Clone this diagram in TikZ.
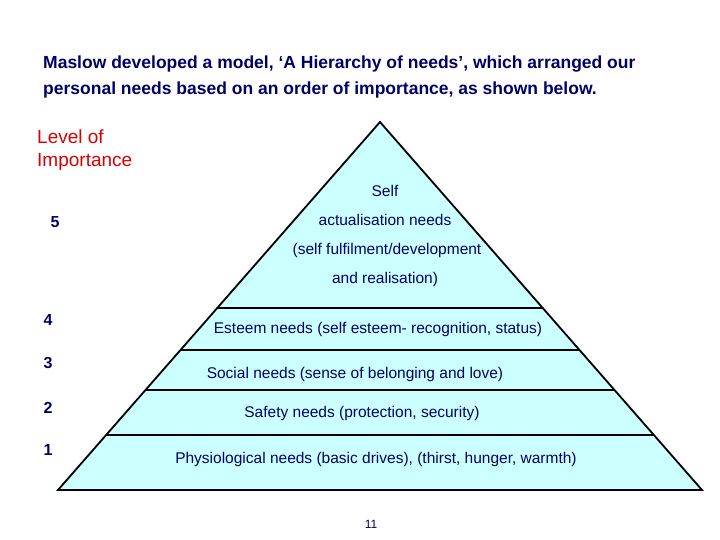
\documentclass[tikz,border=0pt]{standalone}
\usepackage{fontspec}
\setmainfont{Liberation Sans}
\usetikzlibrary{calc}
\definecolor{navy}{HTML}{000066}
\definecolor{cy}{HTML}{CCFFFF}
\begin{document}
\begin{tikzpicture}[x=1pt,y=-1pt,
  t/.style={text=navy,font=\fontsize{15.5}{18}\selectfont,anchor=center,inner sep=0},
  num/.style={text=navy,font=\bfseries\fontsize{16}{18}\selectfont,inner sep=0},
  edge/.style={draw=black,line width=1.8pt}]
\useasboundingbox (0,0) rectangle (720,540);
\coordinate (A) at (380,122);
\coordinate (L) at (58,490);
\coordinate (R) at (702,490);
\fill[cy] (A) -- (L) -- (R) -- cycle;
\foreach \y/\n in {308/a,350/b,390/c,435/d}{
  \draw[edge] ($(A)!{(\y-122)/368}!(L)$) coordinate (l\n) -- ($(A)!{(\y-122)/368}!(R)$) coordinate (r\n);
}
\draw[edge,line join=miter] (A) -- (L) -- (R) -- cycle;
\node[text=navy,font=\bfseries\fontsize{17.5}{26}\selectfont,align=left,anchor=north west,inner sep=0] (title) at (43,56)
 {Maslow developed a model, ‘A Hierarchy of needs’, which arranged our\\personal needs based on an order of importance, as shown below.};
\node[text=red!85!black,font=\fontsize{19}{23}\selectfont,align=left,anchor=north west,inner sep=0] (lvl) at (37,130) {Level of\\Importance};
\node[num] (n5) at (55,222) {5};
\node[num] (n4) at (48,320) {4};
\node[num] (n3) at (48,363) {3};
\node[num] (n2) at (48,408) {2};
\node[num] (n1) at (48,450) {1};
\node[t] (s1) at (385,191) {Self};
\node[t] (s2) at (385,220) {actualisation needs};
\node[t] (s3) at (387,250) {(self fulfilment/development};
\node[t] (s4) at (385,279) {and realisation)};
\node[t] (e) at (378,329) {Esteem needs (self esteem- recognition, status)};
\node[t] (so) at (355,374) {Social needs (sense of belonging and love)};
\node[t] (sa) at (362,413) {Safety needs (protection, security)};
\node[t] (p) at (376,459) {Physiological needs (basic drives), (thirst, hunger, warmth)};
\node[text=navy,font=\fontsize{12}{14}\selectfont,inner sep=0] (pg) at (371,524) {11};
\end{tikzpicture}
\end{document}
